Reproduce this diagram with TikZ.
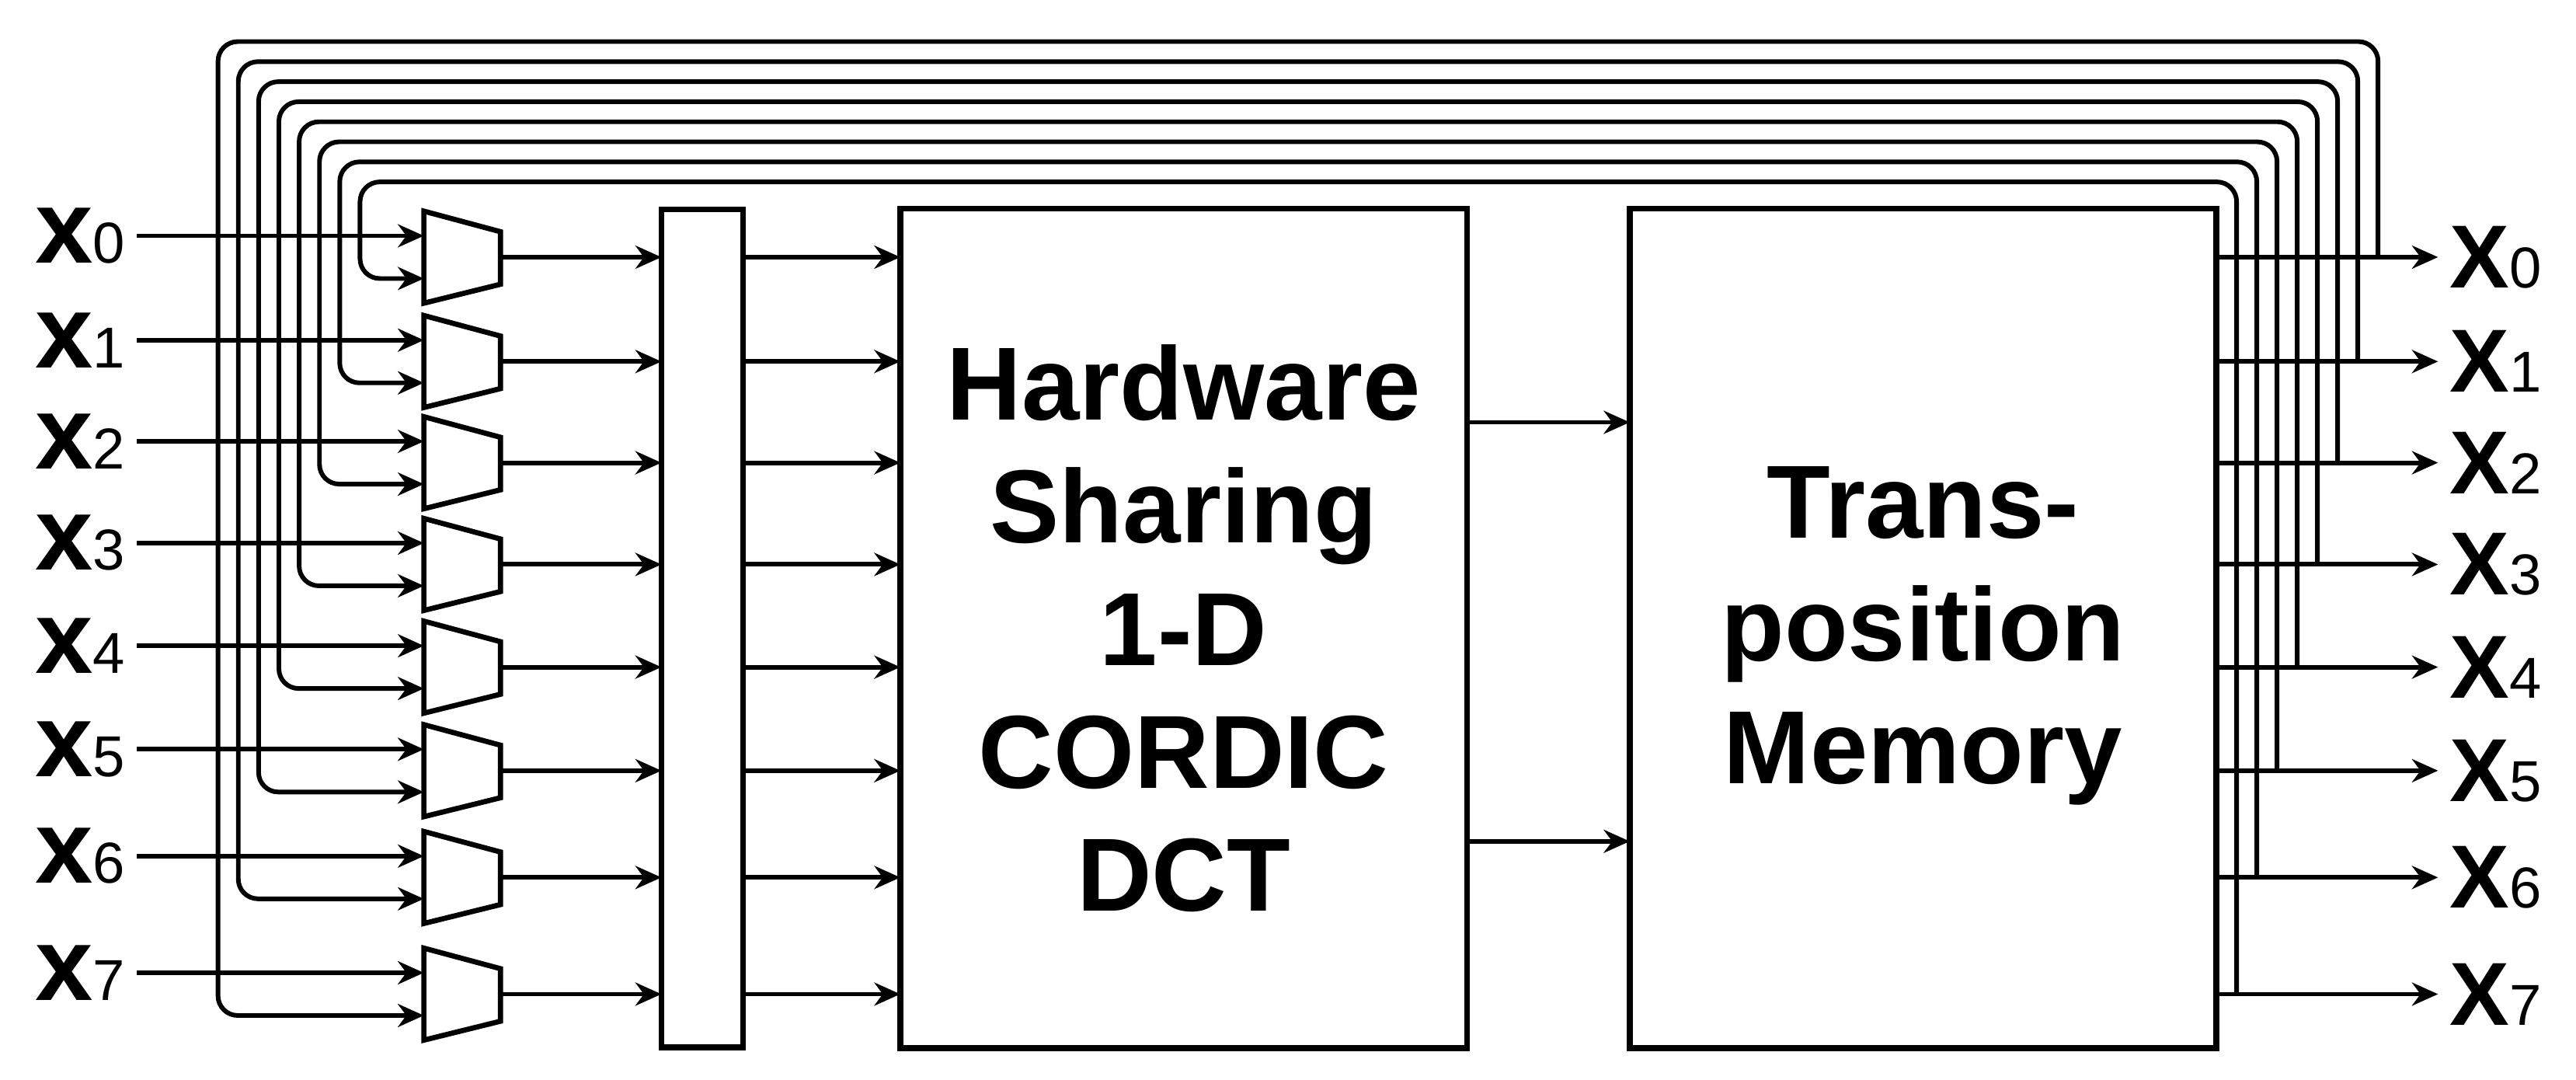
\documentclass[tikz,border=0pt]{standalone}
\usepackage{fontspec}
\setmainfont{Liberation Sans}
\usetikzlibrary{arrows.meta}
\tikzset{
  wire/.style={line width=1.6pt,-{Stealth[length=9pt,width=8pt]}},
  loopwire/.style={line width=1.6pt,rounded corners=0.24cm,-{Stealth[length=9pt,width=8pt]}},
  blockbox/.style={draw,line width=2pt,inner sep=0pt},
  muxshape/.style={line width=1.8pt},
  inlab/.style={anchor=west,inner sep=0pt},
  blocktext/.style={align=center,font=\fontsize{36}{42.5}\selectfont\bfseries}
}
\newcommand{\inx}[1]{{\fontsize{36}{36}\selectfont\bfseries x}{\fontsize{20}{20}\selectfont #1}}
\newcommand{\outx}[1]{{\fontsize{31}{31}\selectfont\bfseries X}{\fontsize{20}{20}\selectfont #1}}
\begin{document}
\begin{tikzpicture}[x=0.02cm,y=-0.02cm]
\useasboundingbox (0,0) rectangle (1568,657);
% blocks
\node[blockbox,minimum width=0.994cm,minimum height=10.2cm] (reg) at (427.5,382.5) {};
\node[blockbox,minimum width=6.9cm,minimum height=10.22cm] (dct) at (720.5,382.5) {};
\node[blocktext] (dcttext) at (dct.center) {Hardware\\Sharing\\1-D\\CORDIC\\DCT};
\node[blockbox,minimum width=7.14cm,minimum height=10.22cm] (mem) at (1170.5,382.5) {};
\node[blocktext] (memtext) at (1170.5,387) {Trans-\\position\\Memory};
\coordinate (d1) at (893,257); \coordinate (m1) at (992,257);
\coordinate (d2) at (893,512); \coordinate (m2) at (992,512);
\draw[wire] (d1) -- (m1);
\draw[wire] (d2) -- (m2);
% muxes, inputs, register
\foreach \i/\c in {0/156.5,1/220,2/281.6,3/343.5,4/406,5/469,6/534,7/605}{
  \draw[muxshape] (258,\c-28) -- (304.6,\c-15.5) -- (304.6,\c+16.5) -- (258,\c+28) -- cycle;
  \coordinate (mi\i) at (258,\c-13);
  \coordinate (mj\i) at (258,\c+13);
  \coordinate (mo\i) at (304.6,\c);
  \coordinate (ri\i) at (402.6,\c);
  \coordinate (ro\i) at (452.3,\c);
  \coordinate (di\i) at (548,\c);
  \coordinate (s\i) at (83,\c-13);
  \node[inlab] (xin\i) at (21,\c-13) {\inx{\i}};
  \draw[wire] (s\i) -- (mi\i);
  \draw[wire] (mo\i) -- (ri\i);
  \draw[wire] (ro\i) -- (di\i);
}
% outputs and feedback loops
\foreach \j/\c/\cm in {0/156.5/605,1/220/534,2/281.6/469,3/343.5/406,4/406/343.5,5/469/281.6,6/534/220,7/605/156.5}{
  \pgfmathsetmacro{\L}{132.7+12.35*\j}
  \pgfmathsetmacro{\T}{25.3+12.2*\j}
  \pgfmathsetmacro{\R}{1447.5-12.3*\j}
  \coordinate (mo\j r) at (1349,\c);
  \coordinate (oe\j) at (1484,\c);
  \coordinate (tap\j) at (\R,\c);
  \draw[wire] (mo\j r) -- (oe\j);
  \node[inlab] (xout\j) at (1491,\c) {\outx{\j}};
  \draw[loopwire] (tap\j) -- (\R,\T) -- (\L,\T) -- (\L,\cm+13) -- (258,\cm+13);
}
\end{tikzpicture}
\end{document}
